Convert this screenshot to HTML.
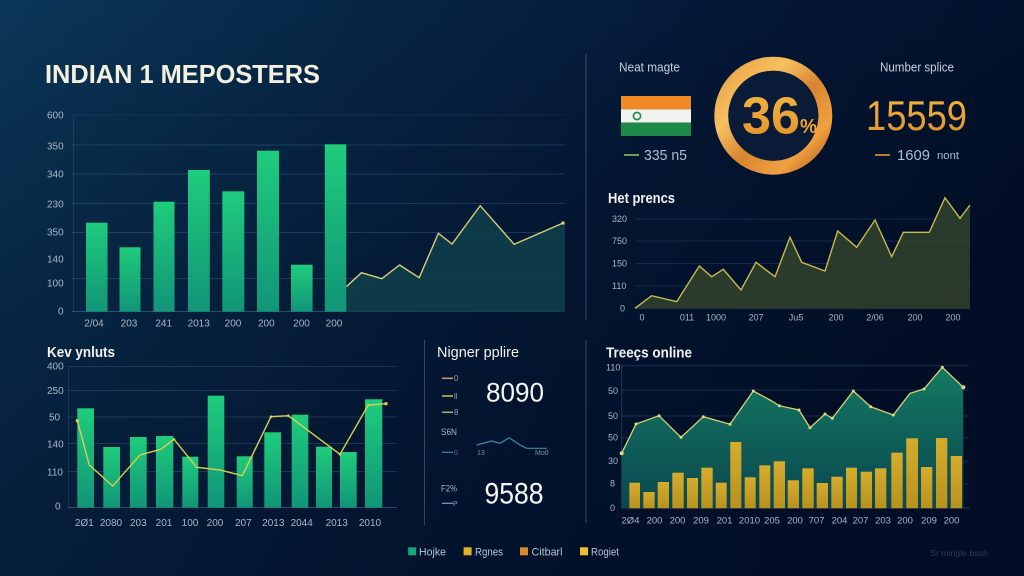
<!DOCTYPE html>
<html><head><meta charset="utf-8">
<style>
html,body{margin:0;padding:0;background:#041630;}
svg{display:block;font-family:"Liberation Sans",sans-serif;}
</style></head>
<body>
<svg width="1024" height="576" viewBox="0 0 1024 576" xmlns="http://www.w3.org/2000/svg">
<defs>
  <linearGradient id="bg" x1="0" y1="0" x2="1" y2="0.3">
    <stop offset="0" stop-color="#0b3658"/>
    <stop offset="0.35" stop-color="#072545"/>
    <stop offset="0.65" stop-color="#041836"/>
    <stop offset="1" stop-color="#02102a"/>
  </linearGradient>
  <linearGradient id="bgv" x1="0" y1="0" x2="0" y2="1">
    <stop offset="0" stop-color="#000" stop-opacity="0"/>
    <stop offset="1" stop-color="#010a1e" stop-opacity="0.35"/>
  </linearGradient>
  <linearGradient id="bar" x1="0" y1="0" x2="0" y2="1">
    <stop offset="0" stop-color="#1fcc7c"/>
    <stop offset="1" stop-color="#119578"/>
  </linearGradient>
  <linearGradient id="gold" x1="0" y1="0" x2="0" y2="1">
    <stop offset="0" stop-color="#d6ac2c"/>
    <stop offset="1" stop-color="#b8921f"/>
  </linearGradient>
  <linearGradient id="teal" x1="0" y1="0" x2="0" y2="1">
    <stop offset="0" stop-color="#137a62"/>
    <stop offset="1" stop-color="#0b4650"/>
  </linearGradient>
  <linearGradient id="ring" x1="0" y1="0" x2="1" y2="1">
    <stop offset="0" stop-color="#e8a048"/>
    <stop offset="0.3" stop-color="#f7c060"/>
    <stop offset="0.55" stop-color="#d88530"/>
    <stop offset="0.8" stop-color="#f0a040"/>
    <stop offset="1" stop-color="#b8621f"/>
  </linearGradient>
  <linearGradient id="numgold" x1="0" y1="0" x2="0" y2="1">
    <stop offset="0" stop-color="#f4b840"/>
    <stop offset="1" stop-color="#e08e2a"/>
  </linearGradient>
</defs>

<rect width="1024" height="576" fill="url(#bg)"/>
<rect width="1024" height="576" fill="url(#bgv)"/>

<!-- Title -->
<text x="45" y="83" font-size="26" font-weight="bold" fill="#f3f0de" textLength="275" lengthAdjust="spacingAndGlyphs">INDIAN 1 MEPOSTERS</text>

<!-- TOP LEFT CHART -->
<g stroke="#5a86ad" stroke-opacity="0.28" stroke-width="1">
  <line x1="72" y1="115" x2="565" y2="115" stroke-opacity="0.12"/>
  <line x1="72" y1="145" x2="565" y2="145"/>
  <line x1="72" y1="174" x2="565" y2="174"/>
  <line x1="72" y1="203.5" x2="565" y2="203.5"/>
  <line x1="72" y1="232.5" x2="565" y2="232.5"/>
  <line x1="72" y1="278.5" x2="565" y2="278.5"/>
  <line x1="72" y1="311.5" x2="565" y2="311.5" stroke-opacity="0.45"/>
  <line x1="73.5" y1="115" x2="73.5" y2="312" stroke-opacity="0.2"/>
</g>
<g font-size="10" fill="#a9b6c6">
  <text x="47" y="118.5">600</text>
  <text x="47" y="149.5">350</text>
  <text x="47" y="177.5">340</text>
  <text x="47" y="207.5">230</text>
  <text x="47" y="235.5">350</text>
  <text x="47" y="262.5">140</text>
  <text x="47" y="286.5">100</text>
  <text x="58" y="314.5">0</text>
</g>
<polygon points="346.3,286.7 361.5,272.7 381.8,278.7 399.6,265 419.2,277.7 438.4,233.3 452.1,244 480.2,205.7 514.2,244.3 563.1,223 565,223 565,311.7 346.3,311.7" fill="#0f3c4a" fill-opacity="0.95"/>
<polyline points="346.3,286.7 361.5,272.7 381.8,278.7 399.6,265 419.2,277.7 438.4,233.3 452.1,244 480.2,205.7 514.2,244.3 563.1,223" fill="none" stroke="#d2cf78" stroke-width="1.4"/>
<rect x="561.5" y="221.5" width="3" height="3" fill="#e0d080"/>
<g fill="url(#bar)">
  <rect x="86" y="222.7" width="21.5" height="89"/>
  <rect x="119.5" y="247.3" width="21" height="64.4"/>
  <rect x="153.5" y="201.7" width="21" height="110"/>
  <rect x="188" y="170" width="21.8" height="141.7"/>
  <rect x="222.3" y="191.3" width="22" height="120.4"/>
  <rect x="257" y="150.7" width="22" height="161"/>
  <rect x="291" y="264.7" width="21.6" height="47"/>
  <rect x="324.8" y="144.3" width="21.5" height="167.4"/>
</g>
<g font-size="10" fill="#a9b6c6" text-anchor="middle">
  <text x="94" y="326.5">2/04</text>
  <text x="129" y="326.5">203</text>
  <text x="163.7" y="326.5">241</text>
  <text x="198.7" y="326.5">2013</text>
  <text x="233" y="326.5">200</text>
  <text x="266.3" y="326.5">200</text>
  <text x="301.5" y="326.5">200</text>
  <text x="334" y="326.5">200</text>
</g>

<!-- dividers -->
<g stroke="#8fa6c6" stroke-opacity="0.35" stroke-width="1">
  <line x1="586" y1="54" x2="586" y2="320"/>
  <line x1="424.5" y1="340" x2="424.5" y2="525"/>
  <line x1="586" y1="340" x2="586" y2="523"/>
</g>

<!-- TOP RIGHT KPIs -->
<text x="619" y="71.5" font-size="13" fill="#c6cfdb" textLength="61" lengthAdjust="spacingAndGlyphs">Neat magte</text>
<text x="880" y="71.5" font-size="13" fill="#c6cfdb" textLength="74" lengthAdjust="spacingAndGlyphs">Number splice</text>
<rect x="621" y="96" width="70" height="13.3" fill="#f08a24"/>
<rect x="621" y="109.3" width="70" height="13.3" fill="#f2f2f0"/>
<rect x="621" y="122.6" width="70" height="13.4" fill="#1d8a48"/>
<circle cx="637" cy="116" r="3.6" fill="none" stroke="#1d8a48" stroke-width="1.6"/>
<line x1="624" y1="155" x2="639" y2="155" stroke="#8cc052" stroke-width="1.6"/>
<text x="644" y="160" font-size="15" fill="#aebcd0" textLength="43" lengthAdjust="spacingAndGlyphs">335 n5</text>

<circle cx="773.3" cy="115.7" r="52" fill="#0a1b38" stroke="url(#ring)" stroke-width="14"/>
<circle cx="773.3" cy="115.7" r="45" fill="#0a1b38"/>
<text x="742" y="133.5" font-size="52" font-weight="bold" fill="url(#numgold)" textLength="58" lengthAdjust="spacingAndGlyphs">36</text>
<text x="800" y="133" font-size="20" font-weight="bold" fill="#f0a535" textLength="17" lengthAdjust="spacingAndGlyphs">%</text>

<text x="866" y="130" font-size="42" fill="url(#numgold)" textLength="101" lengthAdjust="spacingAndGlyphs">15559</text>
<line x1="875" y1="155" x2="890" y2="155" stroke="#e39442" stroke-width="1.6"/>
<text x="897" y="160" font-size="15" fill="#aebcd0" textLength="33" lengthAdjust="spacingAndGlyphs">1609</text>
<text x="937" y="159" font-size="11" fill="#aebcd0" textLength="22" lengthAdjust="spacingAndGlyphs">nont</text>

<!-- Het prencs chart -->
<text x="608" y="203" font-size="15" font-weight="bold" fill="#f2f2f2" textLength="67" lengthAdjust="spacingAndGlyphs">Het prencs</text>
<g stroke="#5a86ad" stroke-opacity="0.22" stroke-width="1">
  <line x1="635" y1="219" x2="970" y2="219"/>
  <line x1="635" y1="241" x2="970" y2="241"/>
  <line x1="635" y1="263.5" x2="970" y2="263.5"/>
  <line x1="635" y1="286" x2="970" y2="286"/>
  <line x1="635" y1="308.5" x2="970" y2="308.5"/>
</g>
<g font-size="9" fill="#a9b6c6">
  <text x="612" y="222">320</text>
  <text x="612" y="244">750</text>
  <text x="612" y="266.5">150</text>
  <text x="612" y="289">110</text>
  <text x="620" y="311.5">0</text>
</g>
<polygon points="635,308.3 651.7,295.7 676.7,301.7 699.3,266 711.7,276.7 723.3,269.3 741,290 756,262.3 775,276.7 790,237.3 801.7,262.3 825,271 837.7,231 856.7,247.3 875,220 891.7,256.7 903.3,232.3 929.3,232.3 945,197.7 960,218.3 970,205 970,308.5 635,308.5" fill="#34452c" fill-opacity="0.8"/>
<polyline points="635,308.3 651.7,295.7 676.7,301.7 699.3,266 711.7,276.7 723.3,269.3 741,290 756,262.3 775,276.7 790,237.3 801.7,262.3 825,271 837.7,231 856.7,247.3 875,220 891.7,256.7 903.3,232.3 929.3,232.3 945,197.7 960,218.3 970,205" fill="none" stroke="#c6ba52" stroke-width="1.4"/>
<g font-size="9" fill="#a9b6c6" text-anchor="middle">
  <text x="642" y="320.5">0</text>
  <text x="687" y="320.5">011</text>
  <text x="716" y="320.5">1000</text>
  <text x="756" y="320.5">207</text>
  <text x="796" y="320.5">Ju5</text>
  <text x="836" y="320.5">200</text>
  <text x="875" y="320.5">2/06</text>
  <text x="915" y="320.5">200</text>
  <text x="953" y="320.5">200</text>
</g>

<!-- BOTTOM LEFT CHART -->
<text x="47" y="357" font-size="15" font-weight="bold" fill="#f2f2f2" textLength="68" lengthAdjust="spacingAndGlyphs">Kev ynluts</text>
<g stroke="#5a86ad" stroke-opacity="0.28" stroke-width="1">
  <line x1="68" y1="366.5" x2="397" y2="366.5"/>
  <line x1="68" y1="390.5" x2="397" y2="390.5"/>
  <line x1="68" y1="417" x2="397" y2="417"/>
  <line x1="68" y1="443.5" x2="397" y2="443.5"/>
  <line x1="68" y1="471.5" x2="397" y2="471.5"/>
  <line x1="68" y1="507.5" x2="397" y2="507.5" stroke-opacity="0.45"/>
  <line x1="68.5" y1="366" x2="68.5" y2="508" stroke-opacity="0.2"/>
</g>
<g font-size="10" fill="#a9b6c6">
  <text x="47" y="369.5">400</text>
  <text x="47" y="394">250</text>
  <text x="49" y="420.5">50</text>
  <text x="47" y="447.5">140</text>
  <text x="47" y="475.5">110</text>
  <text x="55" y="509.5">0</text>
</g>
<g fill="url(#bar)">
  <rect x="77.3" y="408.3" width="16.7" height="99.4"/>
  <rect x="103.3" y="447" width="16.7" height="60.7"/>
  <rect x="130" y="437" width="16.7" height="70.7"/>
  <rect x="156" y="436" width="17.3" height="71.7"/>
  <rect x="182.3" y="456.7" width="16" height="51"/>
  <rect x="207.7" y="395.7" width="16.6" height="112"/>
  <rect x="236.7" y="456.3" width="16" height="51.4"/>
  <rect x="264.3" y="432.3" width="16.7" height="75.4"/>
  <rect x="291.7" y="414.7" width="16.6" height="93"/>
  <rect x="316" y="446.7" width="16" height="61"/>
  <rect x="340" y="452" width="16.7" height="55.7"/>
  <rect x="365" y="399.3" width="17.3" height="108.4"/>
</g>
<polyline points="77.3,420.7 89.3,465 112.7,486 140,455 160.7,449.3 174,439.3 196.7,467.3 220,470 242.3,475.7 271,416.7 288.3,415.7 340,454.3 368.3,405 386,403.7" fill="none" stroke="#d9d04c" stroke-width="1.4"/>
<g fill="#e2cf52">
  <rect x="75.8" y="419.2" width="3" height="3"/>
  <rect x="384.5" y="402.2" width="3" height="3"/>
  <circle cx="271" cy="416.7" r="1.3"/>
  <circle cx="288.3" cy="415.7" r="1.3"/>
  <circle cx="340" cy="454.3" r="1.3"/>
  <circle cx="368.3" cy="405" r="1.3"/>
  <circle cx="174" cy="439.3" r="1.3"/>
</g>
<g font-size="10" fill="#a9b6c6" text-anchor="middle">
  <text x="84.3" y="526">2Ø1</text>
  <text x="111" y="526">2080</text>
  <text x="138.3" y="526">203</text>
  <text x="164" y="526">201</text>
  <text x="190" y="526">100</text>
  <text x="215" y="526">200</text>
  <text x="243.3" y="526">207</text>
  <text x="273.3" y="526">2013</text>
  <text x="301.7" y="526">2044</text>
  <text x="336.7" y="526">2013</text>
  <text x="370" y="526">2010</text>
</g>

<!-- BOTTOM MIDDLE -->
<text x="437" y="357" font-size="15" fill="#f2f2f2" textLength="82" lengthAdjust="spacingAndGlyphs">Nigner pplire</text>
<line x1="442" y1="378.3" x2="453" y2="378.3" stroke="#c8a070" stroke-width="1.5"/>
<text x="454" y="381" font-size="8" fill="#8fa0b4">0</text>
<line x1="442" y1="396" x2="453" y2="396" stroke="#d2c450" stroke-width="1.5"/>
<text x="454" y="399" font-size="8" fill="#8fa0b4">ll</text>
<line x1="442" y1="412.3" x2="453" y2="412.3" stroke="#92c26c" stroke-width="1.5"/>
<text x="454" y="415" font-size="8" fill="#8fa0b4">8</text>
<text x="486" y="401.7" font-size="27" fill="#f4f6f8" textLength="58" lengthAdjust="spacingAndGlyphs">8090</text>
<text x="441" y="435" font-size="9" fill="#a9b6c6" textLength="16" lengthAdjust="spacingAndGlyphs">S6N</text>
<line x1="442" y1="452.3" x2="453" y2="452.3" stroke="#3f86a2" stroke-width="1.2"/>
<text x="454" y="455" font-size="7" fill="#5c7a98">0</text>
<polyline points="476.7,445 491.7,441 500,443.3 509.3,437.7 520,445 526.7,448.3 546.7,448.3" fill="none" stroke="#3a8aa4" stroke-width="1.2"/>
<text x="477" y="455" font-size="7" fill="#7890aa">13</text>
<text x="535" y="455" font-size="7" fill="#7890aa">Mo0</text>
<text x="441" y="491.5" font-size="9" fill="#a9b6c6" textLength="16" lengthAdjust="spacingAndGlyphs">F2%</text>
<text x="484.5" y="503.5" font-size="30" fill="#f4f6f8" textLength="59" lengthAdjust="spacingAndGlyphs">9588</text>
<line x1="442" y1="503.3" x2="453" y2="503.3" stroke="#8aa2c4" stroke-width="1.2"/>
<text x="453" y="506" font-size="7" fill="#8aa2c4">P</text>

<!-- BOTTOM RIGHT CHART -->
<text x="606" y="357.5" font-size="15" font-weight="bold" fill="#f2f2f2" textLength="86" lengthAdjust="spacingAndGlyphs">Treeçs online</text>
<g stroke="#5a86ad" stroke-opacity="0.28" stroke-width="1">
  <line x1="621.7" y1="365.7" x2="969" y2="365.7"/>
  <line x1="621.7" y1="390" x2="969" y2="390"/>
  <line x1="621.7" y1="416" x2="969" y2="416"/>
  <line x1="621.7" y1="437.7" x2="969" y2="437.7"/>
  <line x1="621.7" y1="461" x2="969" y2="461"/>
  <line x1="621.7" y1="484" x2="969" y2="484"/>
  <line x1="621.7" y1="508" x2="969" y2="508" stroke-opacity="0.45"/>
  <line x1="621.7" y1="364" x2="621.7" y2="508" stroke-opacity="0.35"/>
</g>
<g font-size="9" fill="#a9b6c6">
  <text x="606" y="370.5">110</text>
  <text x="608" y="394">50</text>
  <text x="608" y="419">50</text>
  <text x="608" y="440.5">50</text>
  <text x="608" y="464">30</text>
  <text x="610" y="486.5">8</text>
  <text x="610" y="511">0</text>
</g>
<polygon points="621.7,453.3 636,424 659,415.7 681,437.3 703.3,416.7 730,424.3 753.3,391 770,400 779.3,405.7 799,410 810,427.7 825,414 832.3,418.3 853.3,391 870.7,406.7 893.3,415 910,393.3 924,389 942.3,367.3 963.3,387.3 963.3,508 621.7,508" fill="url(#teal)"/>
<polyline points="621.7,453.3 636,424 659,415.7 681,437.3 703.3,416.7 730,424.3 753.3,391 770,400 779.3,405.7 799,410 810,427.7 825,414 832.3,418.3 853.3,391 870.7,406.7 893.3,415 910,393.3 924,389 942.3,367.3 963.3,387.3" fill="none" stroke="#d6d274" stroke-width="1.3"/>
<g fill="#e0dc80">
  <circle cx="621.7" cy="453.3" r="2"/><circle cx="636" cy="424" r="1.5"/><circle cx="659" cy="415.7" r="1.5"/>
  <circle cx="681" cy="437.3" r="1.5"/><circle cx="703.3" cy="416.7" r="1.5"/><circle cx="730" cy="424.3" r="1.5"/>
  <circle cx="753.3" cy="391" r="1.5"/><circle cx="779.3" cy="405.7" r="1.5"/><circle cx="799" cy="410" r="1.5"/>
  <circle cx="810" cy="427.7" r="1.5"/><circle cx="825" cy="414" r="1.5"/><circle cx="832.3" cy="418.3" r="1.5"/>
  <circle cx="853.3" cy="391" r="1.5"/><circle cx="870.7" cy="406.7" r="1.5"/><circle cx="893.3" cy="415" r="1.5"/>
  <circle cx="924" cy="389" r="1.5"/><circle cx="942.3" cy="367.3" r="1.5"/><circle cx="963.3" cy="387.3" r="2"/>
</g>
<g fill="url(#gold)">
  <rect x="629.3" y="482.7" width="10.7" height="25.6"/>
  <rect x="643.3" y="492" width="11.4" height="16.3"/>
  <rect x="657.7" y="482" width="11.3" height="26.3"/>
  <rect x="672.3" y="472.7" width="11.4" height="35.6"/>
  <rect x="687" y="478" width="11" height="30.3"/>
  <rect x="701.3" y="467.7" width="11.4" height="40.6"/>
  <rect x="715.7" y="482.7" width="11" height="25.6"/>
  <rect x="730.3" y="442" width="11" height="66.3"/>
  <rect x="744.7" y="477.3" width="11" height="31"/>
  <rect x="759.3" y="465.3" width="11" height="43"/>
  <rect x="773.7" y="461.3" width="11.3" height="47"/>
  <rect x="787.7" y="480.3" width="11.3" height="28"/>
  <rect x="802.3" y="468.3" width="11.4" height="40"/>
  <rect x="816.7" y="483" width="11.3" height="25.3"/>
  <rect x="831.3" y="476.7" width="11.4" height="31.6"/>
  <rect x="846" y="467.7" width="11" height="40.6"/>
  <rect x="860.7" y="471.7" width="11.3" height="36.6"/>
  <rect x="875" y="468.3" width="11.3" height="40"/>
  <rect x="891.3" y="452.7" width="11.4" height="55.6"/>
  <rect x="906.3" y="438.3" width="11.7" height="70"/>
  <rect x="921" y="467" width="11.3" height="41.3"/>
  <rect x="936" y="438" width="11.3" height="70.3"/>
  <rect x="950.7" y="456" width="11.3" height="52.3"/>
</g>
<g font-size="9.5" fill="#a9b6c6" text-anchor="middle">
  <text x="630.5" y="523.5">2Ø4</text>
  <text x="654.5" y="523.5">200</text>
  <text x="677.5" y="523.5">200</text>
  <text x="701" y="523.5">209</text>
  <text x="724.5" y="523.5">201</text>
  <text x="749.5" y="523.5">2010</text>
  <text x="772" y="523.5">205</text>
  <text x="795" y="523.5">200</text>
  <text x="816.5" y="523.5">707</text>
  <text x="839.5" y="523.5">204</text>
  <text x="860.5" y="523.5">207</text>
  <text x="883" y="523.5">203</text>
  <text x="905" y="523.5">200</text>
  <text x="929" y="523.5">209</text>
  <text x="951.5" y="523.5">200</text>
</g>

<!-- LEGEND -->
<rect x="408.2" y="547.3" width="8" height="8" fill="#17a67c"/>
<text x="419" y="555.5" font-size="11" fill="#b8c4d2" textLength="27" lengthAdjust="spacingAndGlyphs">Hojke</text>
<rect x="463.6" y="547.3" width="8" height="8" fill="#e2b22a"/>
<text x="475" y="555.5" font-size="11" fill="#b8c4d2" textLength="28" lengthAdjust="spacingAndGlyphs">Rgnes</text>
<rect x="520" y="547.3" width="8" height="8" fill="#d9862c"/>
<text x="531.5" y="555.5" font-size="11" fill="#b8c4d2" textLength="31" lengthAdjust="spacingAndGlyphs">Citbarl</text>
<rect x="580" y="547.3" width="8" height="8" fill="#eec02e"/>
<text x="591" y="555.5" font-size="11" fill="#b8c4d2" textLength="28" lengthAdjust="spacingAndGlyphs">Rogiet</text>
<text x="930" y="556" font-size="8" fill="#2a3c58" textLength="58" lengthAdjust="spacingAndGlyphs">Sr mirlgle bssh</text>
</svg>
</body></html>
